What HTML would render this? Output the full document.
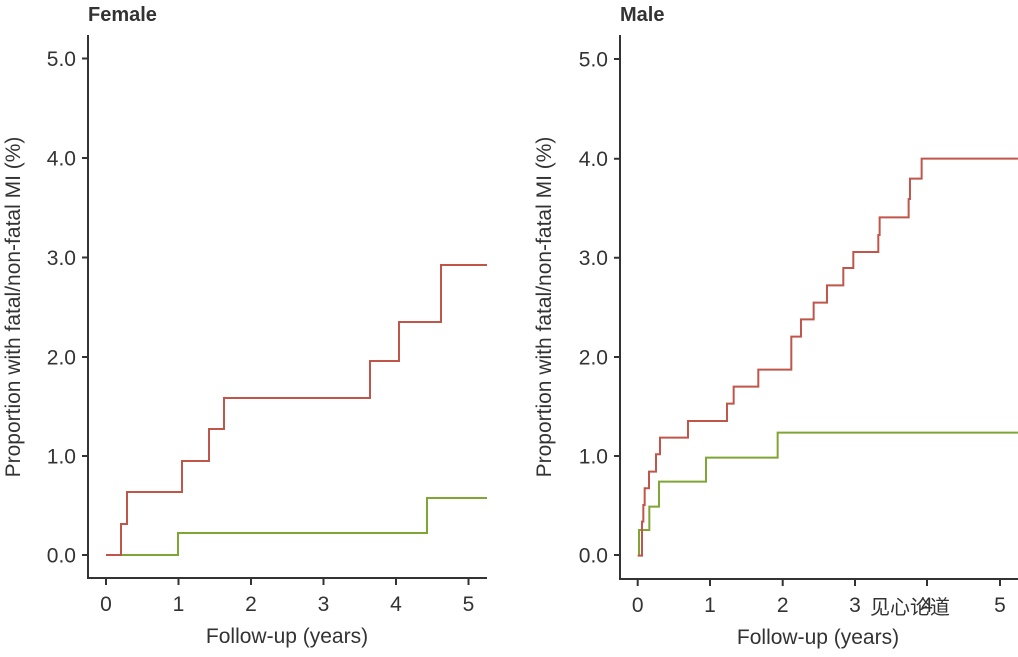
<!DOCTYPE html>
<html><head><meta charset="utf-8"><style>
html,body{margin:0;padding:0;background:#fff;}
svg text{font-family:"Liberation Sans","Noto Sans CJK SC",sans-serif;fill:#333;}
</style></head><body>
<svg width="1018" height="652" viewBox="0 0 1018 652" xmlns="http://www.w3.org/2000/svg">
<text x="88" y="21" font-size="20" font-weight="bold" fill="#222">Female</text>
<text x="620" y="21" font-size="20" font-weight="bold" fill="#222">Male</text>
<g stroke="#333" stroke-width="2" fill="none">
<path d="M88 35 V578 H487"/>
<path d="M82 58.5H88M82 158H88M82 257.5H88M82 357H88M82 456H88M82 555H88"/>
<path d="M106 578V585M178.5 578V585M251 578V585M323.5 578V585M396 578V585M468.5 578V585"/>
<path d="M620 35 V579 H1018"/>
<path d="M614 59H620M614 158.7H620M614 257.7H620M614 357H620M614 456H620M614 555H620"/>
<path d="M637.7 579V586M710 579V586M782.7 579V586M855 579V586M927 579V586M1000 579V586"/>
</g>
<g font-size="21" text-anchor="end">
<text x="76" y="66">5.0</text><text x="76" y="165.5">4.0</text><text x="76" y="265">3.0</text><text x="76" y="364.5">2.0</text><text x="76" y="463.5">1.0</text><text x="76" y="562.5">0.0</text>
<text x="608" y="66.5">5.0</text><text x="608" y="166">4.0</text><text x="608" y="265">3.0</text><text x="608" y="364.5">2.0</text><text x="608" y="463.5">1.0</text><text x="608" y="562.5">0.0</text>
</g>
<g font-size="21" text-anchor="middle">
<text x="106" y="611">0</text><text x="178.5" y="611">1</text><text x="251" y="611">2</text><text x="323.5" y="611">3</text><text x="396" y="611">4</text><text x="468.5" y="611">5</text>
<text x="637.7" y="612">0</text><text x="710" y="612">1</text><text x="782.7" y="612">2</text><text x="855" y="612">3</text><text x="927" y="612">4</text><text x="1000" y="612">5</text>
<text x="287" y="643" font-size="21" fill="#222">Follow-up (years)</text>
<text x="818" y="644" font-size="21" fill="#222">Follow-up (years)</text>
</g>
<text transform="translate(20 307) rotate(-90)" font-size="21" text-anchor="middle" fill="#222">Proportion with fatal/non-fatal MI (%)</text>
<text transform="translate(551 307) rotate(-90)" font-size="21" text-anchor="middle" fill="#222">Proportion with fatal/non-fatal MI (%)</text>
<path d="M121 555H178V533H427V498H487" stroke="#7fa534" stroke-width="2" fill="none"/>
<path d="M106 555H121V524H127V492H182V461H209V429H224V398H370V361H399V322H441V265H487" stroke="#c0564a" stroke-width="2" fill="none"/>
<g transform="translate(600 140) scale(0.3333)" fill="none" stroke-width="6">
<path d="M117 1247V1170H148V1100H177V1025H318V953H533V878H1254" stroke="#7fa534"/>
<path d="M113 1247H126V1145H130V1095H134V1045H147V995H168V943H180V893H264V843H381V791H401V740H475V689H574V590H603V538H641V488H681V436H730V384H760V336H835V285H839V232H926V177H930V116H965V56H1254" stroke="#c0564a"/>
</g>
<text x="870" y="614" font-size="20" fill="#555">见心论道</text>
</svg>
</body></html>
